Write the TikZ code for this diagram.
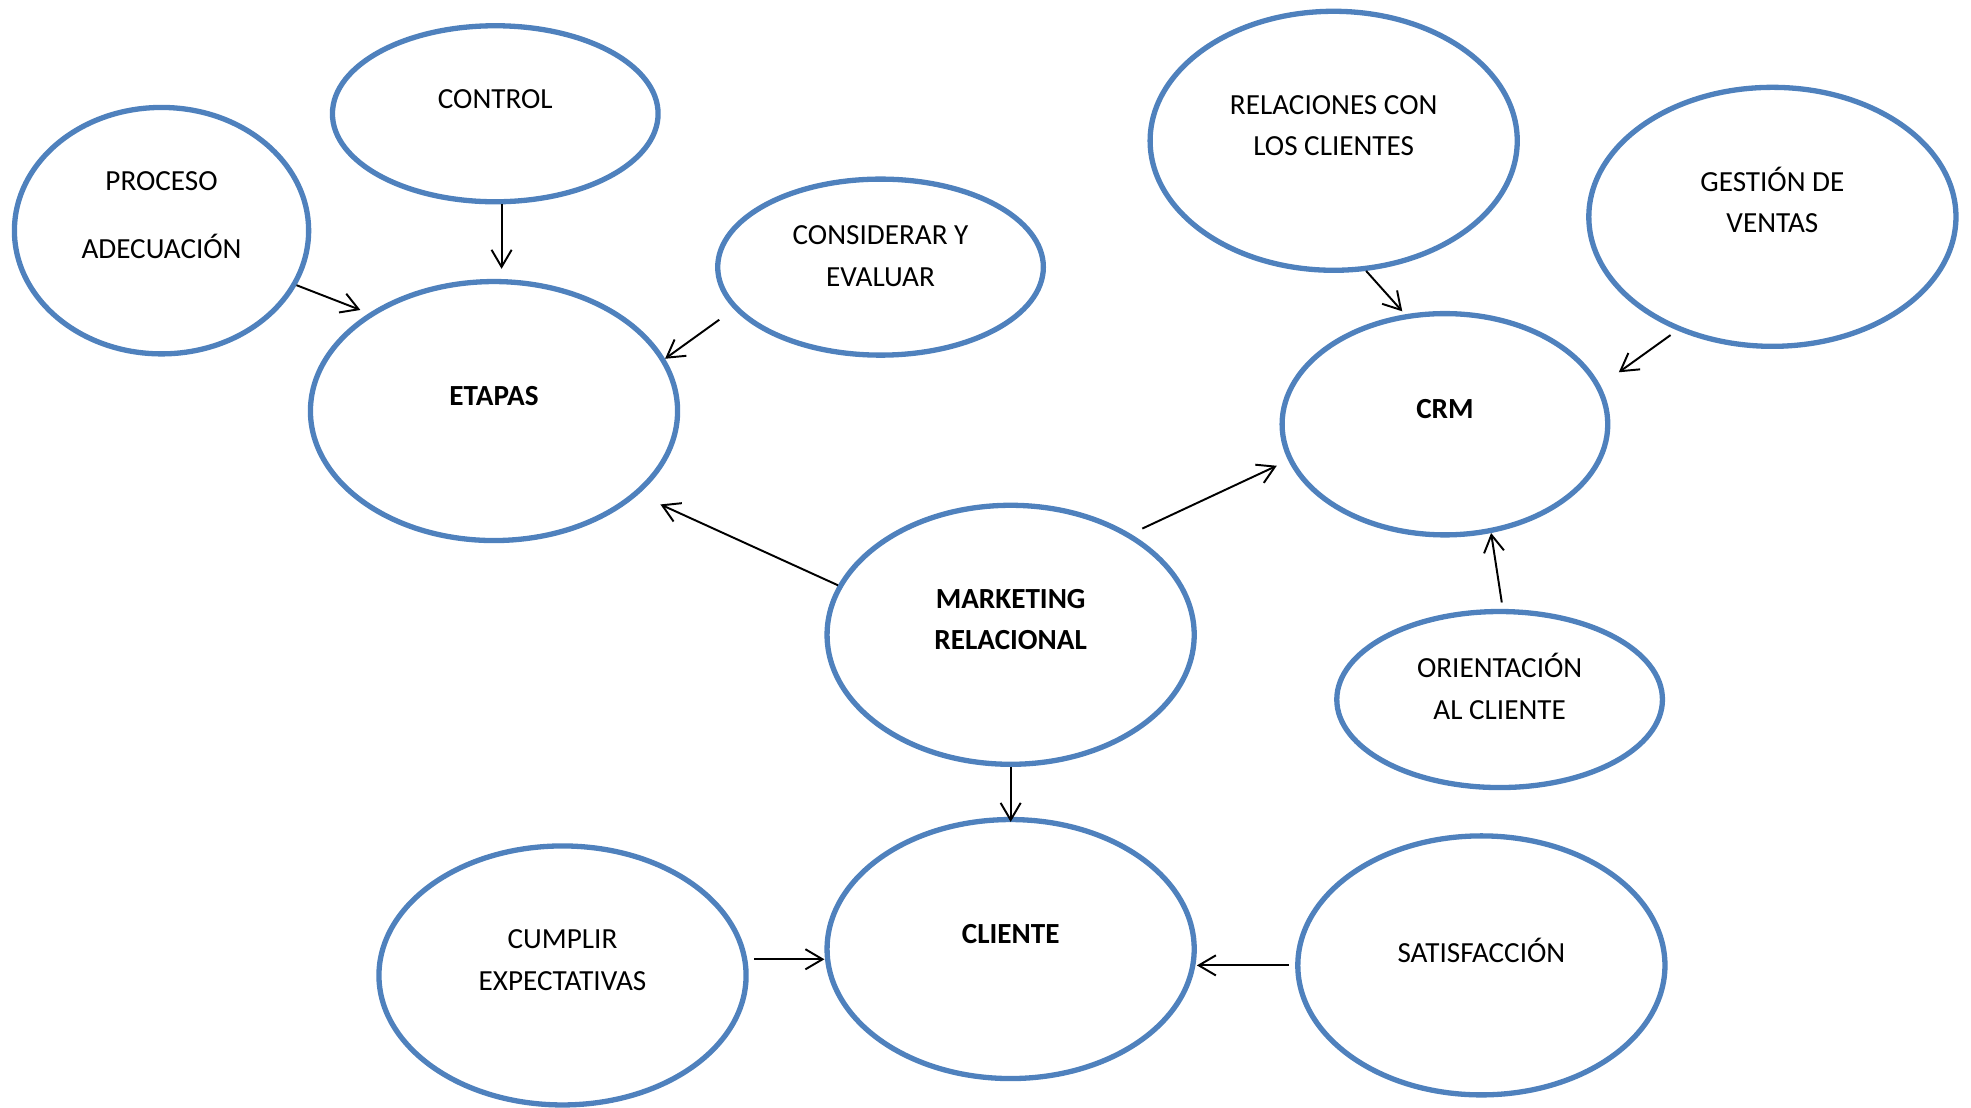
\documentclass[tikz,border=0pt]{standalone}
\usepackage{fontspec}
\setmainfont{Carlito}
\usetikzlibrary{arrows.meta}
\usetikzlibrary{shapes.geometric}
\definecolor{azul}{RGB}{79,129,189}

\tikzset{
  globo/.style={ellipse, draw=azul, line width=3pt, inner sep=0pt},
  grande/.style={globo, minimum width=7.3cm, minimum height=5.15cm},
  chico/.style={globo, minimum width=6.475cm, minimum height=3.5cm},
  texto/.style={align=center, yshift=0.3cm, font=\fontsize{16.5}{23.5}\selectfont},
  negrita/.style={texto, font=\fontsize{16.5}{23.5}\selectfont\bfseries},
  flecha/.style={line width=1.1pt, -{Straight Barb[length=3.4mm,width=4mm]}}
}

\begin{document}
\begin{tikzpicture}[x=0.025cm, y=-0.025cm]
  \useasboundingbox (0,0) rectangle (1568,881);

  % globos
  \node[globo, minimum width=5.85cm, minimum height=4.9cm, label={[texto]center:PROCESO\\[15pt]ADECUACIÓN}] (proceso) at (128.5,183.5) {};
  \node[chico, label={[texto]center:CONTROL}] (control) at (394,90.5) {};
  \node[chico, label={[texto, yshift=-0.08cm]center:CONSIDERAR Y\\EVALUAR}] (considerar) at (700.5,212.5) {};
  \node[grande, label={[negrita]center:ETAPAS}] (etapas) at (393,327) {};
  \node[grande, label={[texto]center:RELACIONES CON\\LOS CLIENTES}] (relaciones) at (1061,112) {};
  \node[grande, label={[texto, yshift=0.04cm]center:GESTIÓN DE\\VENTAS}] (gestion) at (1410,172.5) {};
  \node[chico, minimum height=4.4cm, label={[negrita]center:CRM}] (crm) at (1149.5,337.5) {};
  \node[grande, label={[negrita]center:MARKETING\\RELACIONAL}] (marketing) at (804,505) {};
  \node[chico, label={[texto, yshift=-0.04cm]center:ORIENTACIÓN\\AL CLIENTE}] (orientacion) at (1193,556.5) {};
  \node[grande, label={[negrita]center:CLIENTE}] (cliente) at (804,755) {};
  \node[grande, label={[texto]center:CUMPLIR\\EXPECTATIVAS}] (cumplir) at (447.5,776) {};
  \node[grande, label={[texto]center:SATISFACCIÓN}] (satisfaccion) at (1178.5,768) {};

  % flechas
  \draw[flecha, shorten >=0.18cm] (proceso.-22) -- (etapas.142);
  \draw[flecha, shorten >=0.2cm] (control.-86) -- (control.-86 |- etapas.north);
  \draw[flecha, shorten <=0.36cm] (considerar.-164) -- (etapas.17);
  \draw[flecha, shorten >=0.48cm] (marketing.164) -- (etapas.-30);
  \draw[flecha, shorten <=0.25cm, shorten >=0.25cm] (marketing.40) -- (crm.-167);
  \draw[flecha, shorten >=0.08cm] (relaciones.-76) -- (crm.110);
  \draw[flecha, shorten <=0.16cm, shorten >=0.45cm] (gestion.-130) -- (crm.14);
  \draw[flecha, shorten <=0.13cm] (orientacion.88) -- (crm.-67);
  \draw[flecha, shorten >=-0.1cm] (marketing.south) -- (cliente.north);
  \draw[flecha, shorten <=0.14cm] (cumplir.5) -- (cumplir.5 -| cliente.west);
  \draw[flecha, shorten <=0.13cm] (satisfaccion.west) -- (satisfaccion.west -| cliente.east);
\end{tikzpicture}
\end{document}
